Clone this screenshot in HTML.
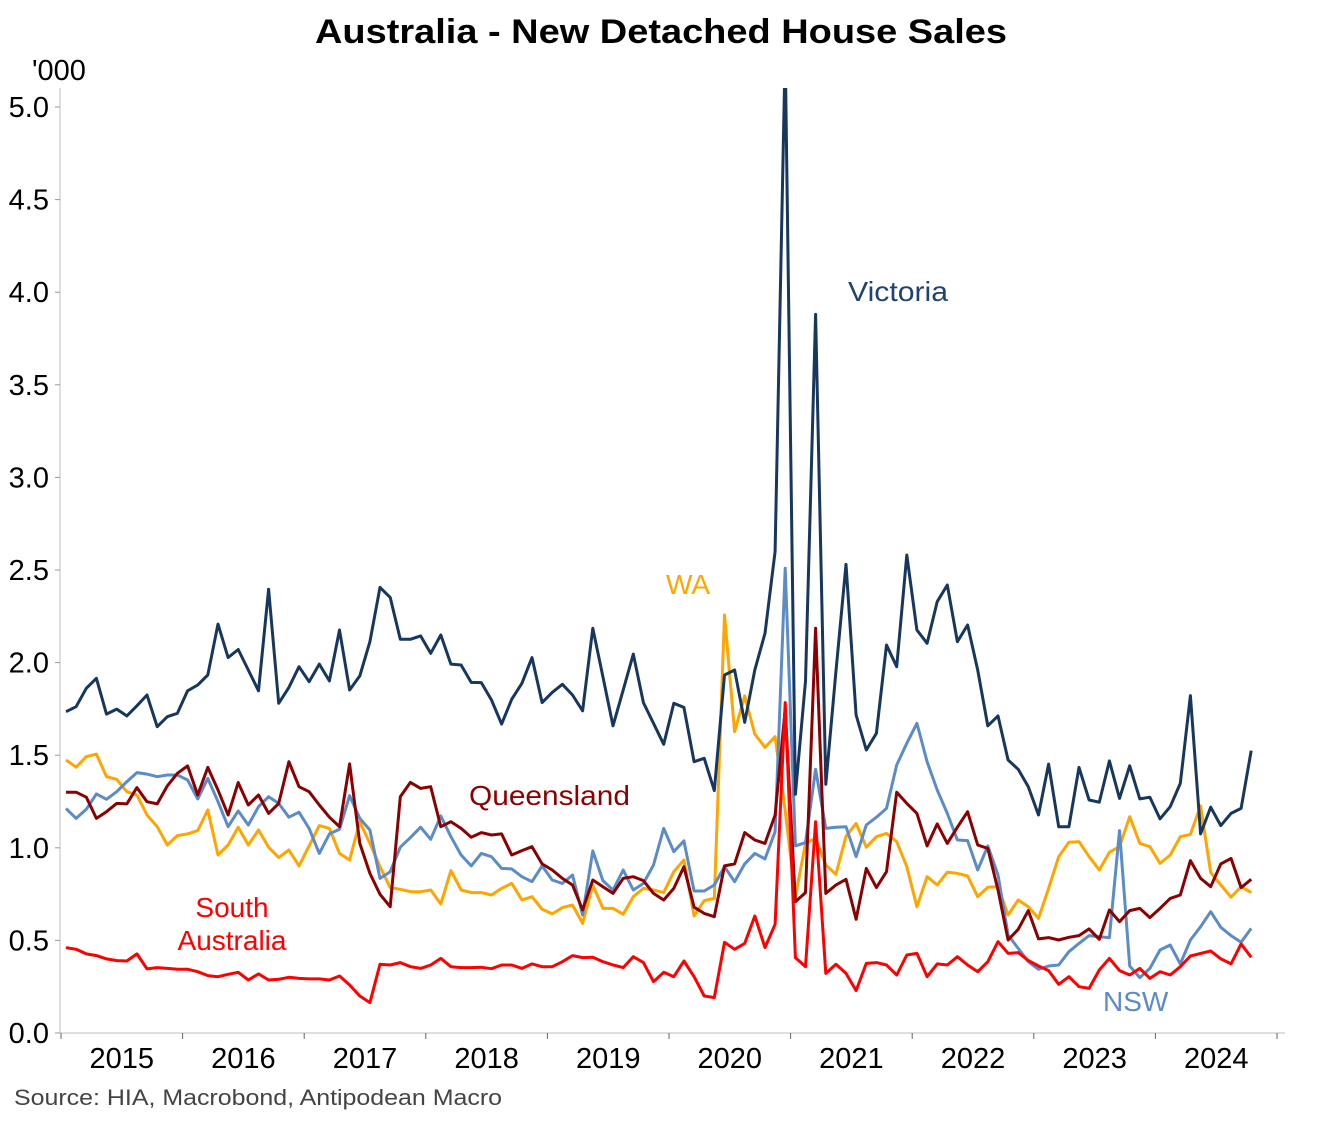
<!DOCTYPE html>
<html><head><meta charset="utf-8"><style>
html,body{margin:0;padding:0;background:#fff;}
svg{display:block;font-family:"Liberation Sans",Arial,sans-serif;}
</style></head><body>
<svg id="chart" width="1323" height="1122" viewBox="0 0 1323 1122" xmlns="http://www.w3.org/2000/svg">
<defs><clipPath id="plotclip"><rect x="60" y="88" width="1230" height="960"/></clipPath></defs>
<text x="661" y="43" text-anchor="middle" font-size="34" font-weight="bold" textLength="692" lengthAdjust="spacingAndGlyphs">Australia - New Detached House Sales</text>
<text x="32" y="80" font-size="29">'000</text>
<g id="axes"></g>
<g id="series" clip-path="url(#plotclip)"></g>
<text x="848" y="301" font-size="28" fill="#1F4272" textLength="100" lengthAdjust="spacingAndGlyphs">Victoria</text>
<text x="666" y="594" font-size="28" fill="#FFA500">WA</text>
<text x="469" y="805" font-size="28" fill="#8B0000" textLength="161" lengthAdjust="spacingAndGlyphs">Queensland</text>
<text x="232" y="917" font-size="28" fill="#FF0000" text-anchor="middle">South</text>
<text x="232" y="950" font-size="28" fill="#FF0000" text-anchor="middle">Australia</text>
<text x="1103" y="1011" font-size="28" fill="#5B8CC8">NSW</text>
<text x="14" y="1105" font-size="22" fill="#444" textLength="488" lengthAdjust="spacingAndGlyphs">Source: HIA, Macrobond, Antipodean Macro</text>
</svg>
<script>
const yTicks = [0.0,0.5,1.0,1.5,2.0,2.5,3.0,3.5,4.0,4.5,5.0];
const yearLabels = ["2015","2016","2017","2018","2019","2020","2021","2022","2023","2024"];
const victoria = [1.735,1.762,1.861,1.915,1.722,1.749,1.712,1.767,1.825,1.654,1.708,1.726,1.848,1.879,1.933,2.208,2.027,2.071,1.960,1.848,2.396,1.780,1.866,1.978,1.897,1.992,1.901,2.176,1.852,1.928,2.113,2.406,2.352,2.126,2.126,2.144,2.050,2.149,1.992,1.987,1.893,
1.892,1.798,1.668,1.802,1.888,2.027,1.784,1.839,1.883,1.825,1.740,2.185,1.924,1.659,1.852,2.046,1.784,1.672,1.559,1.780,1.758,1.465,1.483,1.309,1.933,1.960,1.677,1.960,2.158,2.6,5.3,1.289,1.9,3.88,1.343,1.95,2.53,1.717,1.528,1.618,
2.095,1.978,2.581,2.176,2.104,2.329,2.419,2.113,2.203,1.960,1.659,1.712,1.474,1.424,1.330,1.177,1.452,1.114,1.114,1.434,1.258,1.246,1.469,1.267,1.443,1.264,1.273,1.156,1.222,1.348,1.822,1.075,1.219,1.120,1.186,1.213,1.525];
const nsw = [1.213,1.159,1.208,1.291,1.262,1.303,1.357,1.406,1.398,1.384,1.393,1.393,1.366,1.264,1.375,1.249,1.114,1.199,1.123,1.222,1.276,1.240,1.165,1.192,1.105,0.970,1.075,1.100,1.282,1.159,1.096,0.835,0.871,1.003,1.055,1.111,1.046,1.172,1.060,0.961,0.902,
0.970,0.952,0.889,0.886,0.844,0.817,0.902,0.826,0.808,0.853,0.637,0.983,0.823,0.772,0.880,0.772,0.808,0.907,1.105,0.979,1.037,0.767,0.767,0.799,0.898,0.817,0.913,0.970,0.940,1.087,2.509,1.010,1.028,1.424,1.105,1.111,1.114,0.952,1.123,1.165,
1.213,1.447,1.564,1.672,1.465,1.312,1.186,1.042,1.039,0.880,1.010,0.853,0.529,0.457,0.385,0.344,0.362,0.367,0.439,0.484,0.526,0.520,0.515,1.093,0.362,0.299,0.349,0.448,0.475,0.373,0.502,0.574,0.655,0.571,0.526,0.490,0.565];
const queensland = [1.300,1.300,1.273,1.159,1.195,1.240,1.237,1.325,1.249,1.237,1.334,1.402,1.442,1.285,1.434,1.312,1.177,1.352,1.231,1.285,1.186,1.240,1.465,1.330,1.303,1.231,1.165,1.114,1.453,1.024,0.862,0.749,0.682,1.276,1.353,1.321,1.330,1.114,1.141,1.105,1.057,
1.082,1.069,1.075,0.961,0.985,1.006,0.913,0.880,0.835,0.799,0.664,0.826,0.790,0.754,0.835,0.844,0.823,0.754,0.718,0.781,0.898,0.679,0.646,0.628,0.902,0.913,1.082,1.042,1.024,1.177,1.75,0.709,0.758,2.185,0.754,0.799,0.830,0.614,0.889,0.785,
0.871,1.300,1.240,1.186,1.010,1.129,1.024,1.111,1.195,1.015,0.997,0.772,0.502,0.560,0.661,0.508,0.515,0.502,0.517,0.526,0.562,0.506,0.664,0.601,0.661,0.673,0.623,0.673,0.727,0.745,0.931,0.835,0.790,0.913,0.943,0.785,0.830];
const wa = [1.474,1.435,1.492,1.506,1.384,1.370,1.303,1.285,1.177,1.114,1.015,1.066,1.075,1.093,1.204,0.961,1.015,1.111,1.015,1.096,1.003,0.947,0.988,0.902,1.010,1.120,1.105,0.970,0.934,1.141,1.024,0.898,0.785,0.776,0.763,0.763,0.772,0.696,0.877,0.772,0.758,
0.758,0.745,0.781,0.808,0.718,0.736,0.668,0.643,0.677,0.691,0.592,0.799,0.673,0.673,0.641,0.736,0.781,0.772,0.758,0.871,0.934,0.632,0.715,0.727,2.257,1.627,1.820,1.614,1.542,1.600,1.2,0.736,1.024,1.051,0.907,0.857,1.062,1.132,1.003,1.06,
1.078,1.033,0.898,0.682,0.844,0.799,0.868,0.862,0.848,0.736,0.787,0.790,0.637,0.718,0.682,0.619,0.781,0.952,1.030,1.033,0.952,0.880,0.976,1.006,1.168,1.024,1.006,0.916,0.961,1.060,1.073,1.226,0.866,0.799,0.733,0.790,0.758];
const southAustralia = [0.461,0.452,0.427,0.418,0.400,0.391,0.389,0.427,0.346,0.353,0.349,0.344,0.344,0.331,0.310,0.304,0.317,0.328,0.286,0.319,0.286,0.290,0.301,0.295,0.292,0.292,0.286,0.308,0.259,0.200,0.164,0.371,0.367,0.380,0.358,0.349,0.367,0.403,0.358,0.353,0.353,
0.355,0.347,0.367,0.367,0.349,0.373,0.358,0.358,0.385,0.418,0.407,0.409,0.385,0.367,0.353,0.412,0.380,0.277,0.328,0.304,0.389,0.304,0.200,0.191,0.490,0.452,0.484,0.632,0.461,0.587,1.784,0.407,0.358,1.141,0.322,0.371,0.322,0.229,0.376,0.380,
0.367,0.313,0.421,0.430,0.304,0.373,0.367,0.412,0.367,0.331,0.385,0.493,0.430,0.434,0.391,0.362,0.337,0.263,0.304,0.250,0.241,0.340,0.403,0.337,0.313,0.349,0.295,0.331,0.313,0.358,0.416,0.430,0.443,0.400,0.373,0.481,0.409];

const NS = "http://www.w3.org/2000/svg";
const x0 = 66, monthW = 10.13, tick0 = 61, yearW = 121.6;
function xOf(i){ return x0 + i*monthW; }
function yOf(v){ return 1033 - v*185.2; }
function mk(tag, attrs, parent){
  const e = document.createElementNS(NS, tag);
  for (const k in attrs) e.setAttribute(k, attrs[k]);
  parent.appendChild(e);
  return e;
}
const axes = document.getElementById('axes');
const yl = mk('line',{x1:60,y1:88,x2:60,y2:1033,stroke:'#d4d4d4','stroke-width':1.5},axes);


const xl = mk('line',{x1:60,y1:1033,x2:1285,y2:1033,stroke:'#d4d4d4','stroke-width':1.5},axes);


yTicks.forEach(v=>{
  const t = mk('line',{x1:55,y1:yOf(v),x2:60,y2:yOf(v),stroke:'#999','stroke-width':1},axes);
  
  
  const lb = mk('text',{x:49,y:yOf(v)+10,'text-anchor':'end','font-size':29},axes);
  lb.textContent = v.toFixed(1);
  
  
});
for (let k=0;k<=yearLabels.length;k++){
  const x = tick0 + k*yearW;
  const t = mk('line',{x1:x,y1:1033,x2:x,y2:1039,stroke:'#666','stroke-width':1},axes);
  
  
}
yearLabels.forEach((lab,k)=>{
  const lb = mk('text',{x:tick0 + (k+0.5)*yearW,y:1068,'text-anchor':'middle','font-size':29},axes);
  lb.textContent = lab;
  
  
});
const seriesG = document.getElementById('series');
function drawLine(arr, color, name){
  const d = arr.map((v,i)=>(i?'L':'M')+xOf(i).toFixed(1)+','+yOf(v).toFixed(1)).join(' ');
  const p = mk('path',{d:d,fill:'none',stroke:color,'stroke-width':3,'stroke-linejoin':'round'},seriesG);
  
  
}
drawLine(wa,'#FFA500','line-wa');
drawLine(nsw,'#5B8CC8','line-nsw');
drawLine(queensland,'#8B0000','line-queensland');
drawLine(southAustralia,'#FF0000','line-south-australia');
drawLine(victoria,'#17375E','line-victoria');
</script>
</body></html>
